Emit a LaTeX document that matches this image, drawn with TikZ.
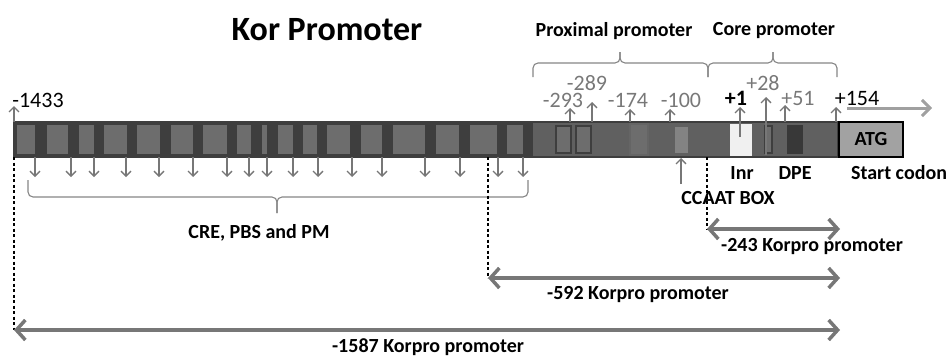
\documentclass[tikz,border=0pt]{standalone}
\usepackage{fontspec}
\setmainfont{Carlito}
\usetikzlibrary{arrows.meta,positioning}
\definecolor{dk}{HTML}{3E3E3E}
\definecolor{lt}{HTML}{6D6D6D}
\definecolor{md}{HTML}{606060}
\definecolor{ar}{HTML}{777777}
\definecolor{lb}{HTML}{787878}
\definecolor{atg}{HTML}{A2A2A2}

\begin{document}
\begin{tikzpicture}[x=1pt,y=-1pt,font=\fontsize{20}{22}\selectfont\bfseries,
  seg/.style={fill=lt},
  box/.style={draw=dk,line width=1.2pt},
  up/.style={-{Straight Barb[length=5pt,width=10pt]},draw=ar,line width=1.3pt},
  num/.style={text=lb,font=\fontsize{22}{24}\selectfont,inner sep=0pt},
  posnum/.style={text=black,font=\fontsize{22}{24}\selectfont,inner sep=0pt},
  lab/.style={inner sep=0pt},
  big/.style={{Straight Barb[length=9pt,width=20pt]}-{Straight Barb[length=9pt,width=20pt]},
    draw=ar,line width=3.5pt},
  guide/.style={draw=black,line width=1.1pt,dash pattern=on 3pt off 2.5pt},
  brc/.style={draw=lb!90,line width=1.1pt,rounded corners=5pt}]
  \useasboundingbox (0,0) rectangle (949,356);
  % title
  \node[font=\fontsize{34}{36}\selectfont\bfseries] (title) at (327,30) {Kor Promoter};
  % the bar
  \fill[dk] (14,122) rectangle (533,157);
  \foreach \a/\b in {17/35,47/68,79/94,104/127,137/160,171/193,203/227,237/251,262/267,
    278/293,303/317,327/350,361/382,393/425,436/459,470/497,507/523}
    \fill[seg] (\a,125) rectangle (\b,154);
  \fill[md] (533,122) rectangle (838,157);
  \filldraw[fill=lt,box] (556,126) rectangle (571,153);
  \filldraw[fill=lt,box] (576,126) rectangle (591,153);
  \filldraw[fill=lt,draw=dk!80,line width=1.6pt] (630,124) rectangle (648,155);
  \filldraw[fill=lt!85!white,draw=md,line width=1pt] (674,126) rectangle (688,153);
  \filldraw[fill=white!94!black,draw=md,line width=1pt] (729,123) rectangle (752,156);
  \filldraw[fill=lt,box] (765,126) rectangle (772,153);
  \fill[dk!90!black] (787,125) rectangle (803,154);
  \draw[dk,line width=1.5pt] (14,122) rectangle (838,157);
  \node[draw=black,line width=2pt,fill=atg,minimum width=64pt,minimum height=35pt,
    anchor=west,inner sep=0pt] (atg) at (838,139.5) {ATG};
  % upstream marks
  \draw[up] (14,122) -- ++(0,-16);
  \node[posnum] (n1433) at (38,100) {-1433};
  \draw[up] (570,122) -- (570,108);
  \draw[up] (592,122) -- (592,102);
  \draw[up] (630,122) -- (630,109);
  \draw[up] (670,122) -- (670,109);
  \node[num] (n293) at (563,100) {-293};
  \node[num] (n289) at (587,83) {-289};
  \node[num] (n174) at (628,100) {-174};
  \node[num] (n100) at (681,100) {-100};
  % core marks
  \draw[up] (740,137) -- (740,107);
  \draw[up] (766,155) -- (766,97);
  \draw[up] (785,122) -- (785,105);
  \draw[up] (836,122) -- (836,107);
  \node[posnum,font=\fontsize{22}{24}\selectfont\bfseries] (n1) at (736,98) {+1};
  \node[num] (n28) at (763,83) {+28};
  \node[num] (n51) at (798,98) {+51};
  \node[posnum] (n154) at (857,98) {+154};
  \draw[-{Straight Barb[length=8pt,width=16pt]},draw=ar!70,line width=3pt] (847,108) -- (932,108);
  % binding sites below the bar
  \foreach \x in {35,71,94,126,159,193,227,249,267,293,318,352,382,425,460,498,523}
    \draw[up] (\x,157) -- ++(0,20);
  \node[lab] (cre) at (259,233) {CRE, PBS and PM};
  \draw[brc] (28,180) |- (277,197) -- (277,213);
  \draw[brc] (528,180) |- (277,197) -- (277,213);
  % brackets above
  \node[lab] (prox) at (614,31) {Proximal promoter};
  \node[lab] (core) at (774,31) {Core promoter};
  \draw[brc] (533,77) |- (620,63) -- (620,52);
  \draw[brc] (708,77) |- (620,63) -- (620,52);
  \draw[brc] (708,77) |- (773,63) -- (773,52);
  \draw[brc] (837,77) |- (773,63) -- (773,52);
  % element names
  \node[lab] (inr) at (742,173) {Inr};
  \node[lab] (dpe) at (795,173) {DPE};
  \node[lab] (start) at (899,173) {Start codon};
  \node[lab] (ccaat) at (728,198) {CCAAT BOX};
  \draw[up] (681,184) -- (681,158);
  % constructs
  \coordinate (d243) at (707,229);
  \coordinate (d592) at (488,278);
  \coordinate (d1587) at (14,330);
  \draw[guide] (707,157) -- (d243);
  \draw[guide] (488,157) -- (d592);
  \draw[guide] (14,157) -- (d1587);
  \draw[big] (d243) -- (840,229);
  \draw[big] (d592) -- (840,278);
  \draw[big] (d1587) -- (840,330);
  \node[lab] (k243) at (812,247) {-243 Korpro promoter};
  \node[lab] (k592) at (638,295) {-592 Korpro promoter};
  \node[lab] (k1587) at (428,347) {-1587 Korpro promoter};
\end{tikzpicture}
\end{document}
